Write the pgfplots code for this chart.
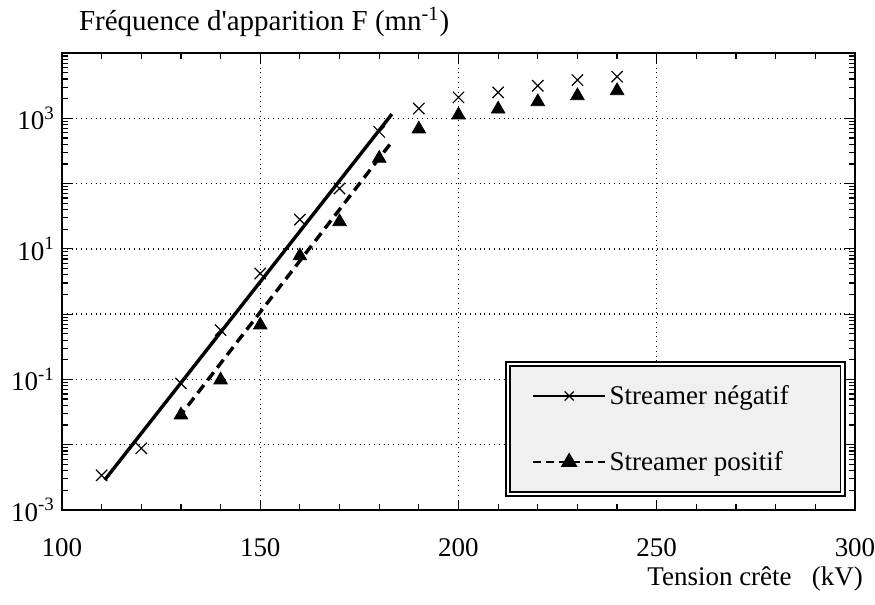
\documentclass[border=0pt]{standalone}
\usepackage{fontspec}
\setmainfont{Liberation Serif}
\usepackage{pgfplots}
\pgfplotsset{compat=1.18}
\newcommand\fs{\fontsize{13.5}{16}\selectfont}
\begin{document}
\begin{tikzpicture}
\path[use as bounding box] (-31pt,-47.5pt) rectangle (406.5pt,255pt);
\begin{axis}[
at={(0pt,0pt)}, anchor=south west,
scale only axis,
width=396.5pt, height=228.5pt,
ymode=log,
xmin=100, xmax=300,
ymin=1e-3, ymax=1e4,
xtick={100,150,200,250,300},
minor x tick num=4,
ytick={1e-3,1e-2,1e-1,1,10,100,1000,10000},
yticklabels={10\textsuperscript{-3},,10\textsuperscript{-1},,10\textsuperscript{1},,10\textsuperscript{3},},
minor ytick={2e-3,3e-3,4e-3,5e-3,6e-3,7e-3,8e-3,9e-3,
 2e-2,3e-2,4e-2,5e-2,6e-2,7e-2,8e-2,9e-2,
 0.2,0.3,0.4,0.5,0.6,0.7,0.8,0.9,
 2,3,4,5,6,7,8,9,
 20,30,40,50,60,70,80,90,
 200,300,400,500,600,700,800,900,
 2000,3000,4000,5000,6000,7000,8000,9000},
/pgf/number format/assume math mode=true,
tick label style={font=\fs},
xticklabel style={anchor=base, yshift=-23.5pt},
tick align=inside,
major tick length=5pt, minor tick length=3pt,
tick style={black, line width=0.6pt},
axis line style={line width=0.8pt},
grid=major,
major grid style={black, dotted, line width=0.7pt},
xlabel={Tension crête\ \ \ (kV)},
xlabel style={font=\fs, at={(rel axis cs:1,0)}, anchor=base east, xshift=7.5pt, yshift=-38pt},
ylabel={Fréquence d\textquotesingle apparition F (mn\textsuperscript{-1})},
ylabel style={font=\fontsize{14.5}{17}\selectfont, rotate=-90, at={(rel axis cs:0,1)}, anchor=base west, xshift=5pt, yshift=11pt},
legend style={font=\fs, at={(rel axis cs:0.561,0.033)}, anchor=south west,
  draw=black, line width=0.9pt, double=white, double distance=1.2pt, fill=gray!12,
  inner xsep=12pt, inner ysep=9pt, row sep=19pt,
  nodes={inner sep=1.5pt}},
legend cell align=left,
legend image code/.code={\draw[mark repeat=2,mark phase=2,#1] plot coordinates {(0pt,0pt) (18pt,0pt) (36pt,0pt)};},
]
% droites d'ajustement
\addplot[black, line width=1.7pt, forget plot] coordinates {(110.8,0.0029) (183.2,1159)};
\addplot[black, line width=1.7pt, dash pattern=on 5pt off 3pt, forget plot] coordinates {(129.3,0.0254) (183.2,437)};
% points mesures
\addplot[only marks, mark=x, mark size=4pt, mark options={black, line width=0.6pt}, forget plot] coordinates {
(110,0.0034) (120,0.0088) (130,0.087) (140,0.57) (150,4.2) (160,28) (170,84)
(180,620) (190,1410) (200,2090) (210,2490) (220,3150) (230,3850) (240,4330)
};
\addplot[only marks, mark=triangle*, mark size=3.9pt, mark options={black, fill=black}, forget plot] coordinates {
(130,0.0285) (140,0.098) (150,0.68) (160,7.8) (170,26) (180,243)
(190,684) (200,1120) (210,1380) (220,1790) (230,2210) (240,2640)
};
\addlegendimage{black, line width=1.4pt, mark=x, mark options={solid, line width=0.6pt, mark size=3.2pt}}
\addlegendentry{\makebox[103pt][l]{Streamer négatif}}
\addlegendimage{black, line width=1.4pt, dash pattern=on 4pt off 2.5pt, mark=triangle*, mark options={solid, fill=black, mark size=3.4pt}}
\addlegendentry{\makebox[103pt][l]{Streamer positif}}
\end{axis}
\end{tikzpicture}
\end{document}
